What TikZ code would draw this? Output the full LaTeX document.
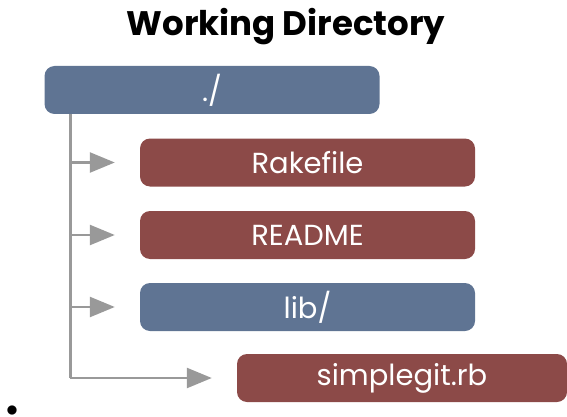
\documentclass[tikz,border=0pt]{standalone}
\usepackage{fontspec}
\setmainfont{Poppins}
\usetikzlibrary{arrows.meta,positioning}
\definecolor{dirblue}{HTML}{5F7493}
\definecolor{filered}{HTML}{8C4A48}
\definecolor{treegrey}{HTML}{999999}
\tikzset{
  entry/.style={rounded corners=10pt,minimum width=335pt,minimum height=48pt,
    text=white,font=\fontsize{29}{31}\selectfont,inner sep=0pt},
  dirnode/.style={entry,fill=dirblue},
  filenode/.style={entry,fill=filered},
  branch/.style={treegrey,line width=2.5pt,-{Triangle[length=25pt,width=20pt]},shorten >=25pt}
}
\begin{document}
\begin{tikzpicture}[x=1pt,y=1pt]
\useasboundingbox (0,0) rectangle (567,-417);
%Titel
\node[font=\fontsize{34}{36}\selectfont\bfseries] (title) at (286,-27) {Working Directory};
%Boxen
\node[dirnode] (root) at (212,-90) {./};
\node[filenode] (rake) at (307.5,-162.5) {Rakefile};
\node[filenode] (readme) at (307.5,-235) {README};
\node[dirnode] (lib) at (307.5,-307) {lib/};
\node[filenode,minimum width=330pt] (simplegit) at (402,-378) {simplegit.rb};
%Baum
\coordinate (trunk) at ([xshift=26pt]root.south west);
\draw[treegrey,line width=2.5pt] (trunk) -- (trunk |- simplegit.west);
\foreach \ziel in {rake,readme,lib,simplegit}{
\draw[branch] (trunk |- \ziel.west) -- (\ziel.west);
}
\node[inner sep=0pt] (dot) at (12,-411) {\scalebox{2.4}{$\bullet$}};
\end{tikzpicture}
\end{document}
